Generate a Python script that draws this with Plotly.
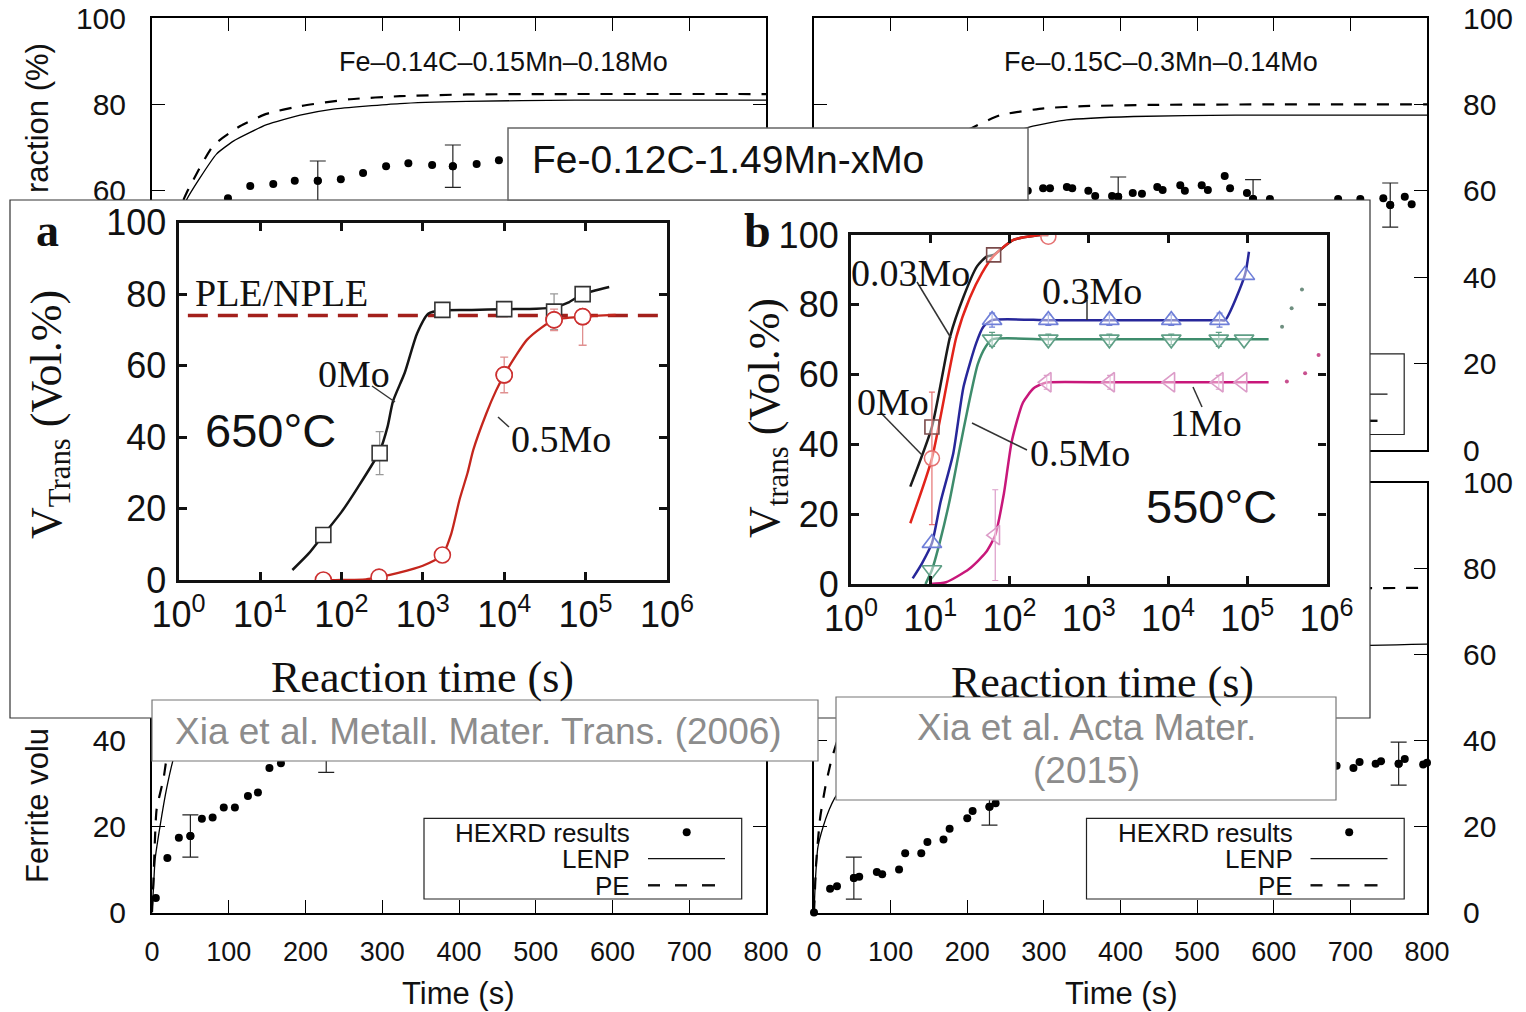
import plotly.graph_objects as go

W, H = 1526, 1012
SANS = "Liberation Sans, Arial, Helvetica, sans-serif"
SERIF = "Liberation Serif, Times New Roman, Times, serif"

# ======================= DATA =======================
# ---- background panels: Time (s) vs ferrite volume fraction (%) ----
time_ticks = [0, 100, 200, 300, 400, 500, 600, 700, 800]
frac_ticks = [0, 20, 40, 60, 80, 100]

tl_title = "Fe–0.14C–0.15Mn–0.18Mo"
tl_hexrd_t = [99, 128, 158, 186, 216, 246, 275, 305, 334, 365, 392, 423, 452]
tl_hexrd_v = [58.3, 61.1, 61.6, 62.3, 62.3, 62.7, 64.1, 65.7, 66.4, 66.0, 65.7, 66.2, 67.1]
tl_hexrd_err = [None, None, None, None, 4.6, None, None, None, None, None, 4.9, None, None]
tl_lenp_t = [0, 10, 20, 30, 45, 62.5, 84, 106, 149.5, 193, 236, 323, 410, 550, 800]
tl_lenp_v = [0, 22, 38, 50, 57.9, 63, 68.5, 71.5, 75.3, 77.5, 78.9, 80.2, 80.7, 81, 81]
tl_pe_t = [0, 10, 20, 30, 45, 80, 115, 149, 193, 258, 323, 410, 550, 800]
tl_pe_v = [0, 24, 42, 53, 59.5, 70.5, 75, 77.8, 79.6, 81.2, 81.9, 82.3, 82.4, 82.4]

tr_title = "Fe–0.15C–0.3Mn–0.14Mo"
tr_hexrd_t = [279, 299, 308, 330, 337, 358, 367, 389, 397, 416, 428, 448, 455, 478, 484,
              506, 514, 536, 543, 565, 573, 595, 684, 713, 743, 752, 771, 780]
tr_hexrd_v = [60.0, 60.6, 60.6, 60.9, 60.6, 60.0, 58.8, 58.8, 58.6, 59.5, 59.3, 60.9, 60.2, 61.3, 60.0,
              61.3, 60.2, 63.4, 60.6, 59.5, 58.1, 58.1, 58.1, 58.1, 58.3, 56.7, 58.6, 56.9]
tr_hexrd_err = [None] * 8 + [4.6] + [None] * 11 + [4.5] + [None] * 4 + [5.1] + [None, None]
tr_lenp_t = [0, 20, 50, 100, 150, 200, 250, 282, 330, 417, 550, 800]
tr_lenp_v = [0, 12, 30, 50, 62, 69, 73, 74.8, 76.4, 77.2, 77.5, 77.5]
tr_pe_t = [0, 20, 50, 100, 150, 200, 243, 300, 352, 450, 600, 800]
tr_pe_v = [0, 20, 40, 58, 68, 74, 77.5, 79.1, 79.6, 79.9, 80, 80]

bl_hexrd_t = [5, 20, 35, 50, 65, 79, 93.5, 108, 125, 138, 153, 168, 227]
bl_hexrd_v = [3.4, 12.7, 17.4, 17.8, 21.8, 22.1, 24.4, 24.4, 27.1, 27.9, 33.6, 34.7, 37.5]
bl_hexrd_err = [None, None, None, 4.9, None, None, None, None, None, None, None, None, 4.9]
bl_lenp_t = [0, 2, 4, 10.5, 19, 28, 40, 60, 100, 200, 400, 800]
bl_lenp_v = [0, 6, 12.3, 20.1, 28.8, 35.8, 42, 50, 60, 70, 74, 75]
bl_pe_t = [0, 2, 6, 15, 19, 30, 50, 100, 200, 400, 800]
bl_pe_v = [0, 8, 24, 31.1, 35.8, 44, 55, 66, 75, 78, 78]

br_hexrd_t = [0, 21, 30, 52, 59, 82, 89, 111, 119, 140, 148, 169, 177, 200, 207, 229, 237,
              682, 704, 712, 733, 740, 763, 771, 795, 800]
br_hexrd_v = [0, 5.5, 6.1, 8.0, 8.3, 9.4, 8.9, 10.0, 13.8, 13.8, 16.4, 17.0, 19.5, 21.9, 23.6, 24.6, 25.4,
              34.1, 33.6, 35.0, 34.6, 35.2, 34.6, 35.7, 34.4, 34.8]
br_hexrd_err = [None, None, None, 4.9] + [None] * 11 + [4.3] + [None] * 6 + [5.0] + [None] * 3
br_lenp_t = [0, 2, 5, 12, 20, 27, 40, 60, 100, 200, 400, 600, 800]
br_lenp_v = [0, 8, 15.1, 20, 24, 26.6, 30, 35, 42, 52, 59, 61.5, 62.4]
br_pe_t = [0, 3, 8, 14.6, 22, 30, 45, 70, 120, 200, 400, 800]
br_pe_v = [0, 12, 22, 29, 35, 39.7, 46, 54, 63, 70, 74.5, 75.5]

legend_labels = ["HEXRD results", "LENP", "PE"]

# ---- inset panels: reaction time (s, log) vs V_trans (vol.%) ----
log_tickvals = [1, 10, 100, 1000, 10000, 100000, 1000000]
log_ticktext = ["10<sup>0</sup>", "10<sup>1</sup>", "10<sup>2</sup>", "10<sup>3</sup>",
                "10<sup>4</sup>", "10<sup>5</sup>", "10<sup>6</sup>"]
vol_ticks = [0, 20, 40, 60, 80, 100]

# panel a (650 °C)
a_0mo_t = [60, 295, 1740, 10000, 41000, 92000]
a_0mo_v = [12.6, 35.5, 75.6, 75.8, 75.1, 80.0]
a_0mo_err = [2, 6, 1.5, 1.5, 5, 2]
a_0mo_fit_t = [25, 40, 60, 100, 160, 295, 370, 430, 600, 850, 1175, 1740, 4000, 10000,
               25000, 41000, 63000, 92000, 195000]
a_0mo_fit_v = [2.8, 7.5, 12.6, 19, 26, 36, 43, 50, 58, 69, 74.6, 75.5, 75.6, 75.8,
               75.9, 76.3, 77.8, 80, 82]
a_05mo_t = [60, 290, 1740, 10000, 41000, 92000]
a_05mo_v = [0, 0.8, 7.0, 57.4, 72.8, 73.7]
a_05mo_err_up = [None, None, None, 5, 3, 1]
a_05mo_err_dn = [None, None, None, 5, 3, 8]
a_05mo_fit_t = [60, 100, 200, 290, 500, 1000, 1740, 2240, 2820, 3550, 4170, 6030, 7940,
                10000, 14100, 19000, 28200, 41000, 92000, 234000]
a_05mo_fit_v = [0, 0, 0.2, 0.8, 2, 4, 7, 13, 22.4, 30, 36.4, 46.6, 53,
                57.4, 63, 67.2, 70.5, 72.8, 73.7, 74.2]
a_ple_t = [1.3, 1000000]
a_ple_v = [74, 74]

# panel b (550 °C)
b_003_fit_t = [5.6, 10.5, 17.8, 26.3, 38.9, 51.3, 63.1, 112, 245, 309]
b_003_fit_v = [27.9, 45, 70.9, 82.3, 91, 93.8, 94.3, 98.6, 100, 100]
b_003_t = [10.5, 63.1]
b_003_v = [45, 94.3]
b_003_err = [None, None]
b_0_fit_t = [5.6, 10.5, 21.4, 31.6, 44.7, 63.1, 112, 245, 309]
b_0_fit_v = [17.4, 36, 70.9, 82, 89, 94, 98.6, 100, 100]
b_0_t = [10.5, 309]
b_0_v = [36, 99.5]
b_0_err = [19, None]
b_03_fit_t = [6.0, 7.9, 10.5, 13.5, 19.5, 26.3, 38, 46.8, 60.3, 309, 1820, 11000, 44700, 52500, 93300, 105000]
b_03_fit_v = [1.6, 6, 11.7, 23.5, 37.4, 56.5, 69, 73.7, 75.6, 75.6, 75.6, 75.6, 75.6, 75.6, 88.5, 95.2]
b_03_t = [10.5, 60.3, 309, 1820, 11000, 44700, 93300]
b_03_v = [11.7, 75.6, 75.6, 75.6, 75.6, 75.6, 88.5]
b_03_err = [None, 2, 1.5, 1.5, 1.5, 2, None]
b_05_fit_t = [8.7, 10.5, 13.2, 17.4, 22.9, 30.2, 39.8, 50.1, 60.3, 309, 1820, 11000, 43700, 91200, 186000]
b_05_fit_v = [0, 4, 12, 23.5, 37.4, 51, 63, 68, 70.1, 70.1, 70.1, 70.1, 70.1, 70.1, 70.1]
b_05_t = [10.5, 60.3, 309, 1820, 11000, 43700, 91200]
b_05_v = [4, 70.1, 70.1, 70.1, 70.1, 70.1, 70.1]
b_05_err = [None, 2, 1.5, 1.5, 1.5, 2, None]
b_05_ext_t = [275000, 363000, 490000]
b_05_ext_v = [73.7, 79, 84.4]
b_1_fit_t = [10, 15.8, 30.9, 50.1, 66.1, 85.1, 107, 148, 200, 263, 309, 1860, 10700, 43700, 87100, 186000]
b_1_fit_v = [0, 0.5, 4.3, 9, 14, 26, 41, 52, 56, 57.4, 57.8, 57.8, 57.8, 57.8, 57.8, 57.8]
b_1_t = [66.1, 295, 1860, 10700, 43700, 87100]
b_1_v = [14, 57.8, 57.8, 57.8, 57.8, 57.8]
b_1_err = [13, 2, 2, None, 2, None]
b_1_ext_t = [316000, 537000, 794000]
b_1_ext_v = [58, 60.4, 65.6]


# ======================= HELPERS =======================
def PX(x):
    return x / W


def PY(y):
    return 1 - y / H


def with_err(ts, vs, es):
    """Keep only the points that carry an error bar."""
    keep = [i for i, e in enumerate(es) if e is not None]
    return [ts[i] for i in keep], [vs[i] for i in keep], [es[i] for i in keep]


fig = go.Figure()


def add(tr):
    tr.update(showlegend=False, hoverinfo="skip")
    fig.add_trace(tr)


def ann(text, x, y, size, family=SANS, color="#111", xanchor="center", yanchor="middle", angle=0):
    fig.add_annotation(text=text, x=PX(x), y=PY(y), xref="paper", yref="paper", showarrow=False,
                       font=dict(family=family, size=size, color=color),
                       xanchor=xanchor, yanchor=yanchor, textangle=angle)


def seg(x0, y0, x1, y1, color="#222", lw=1.5, layer="above", dash=None):
    fig.add_shape(type="line", xref="paper", yref="paper", x0=PX(x0), y0=PY(y0), x1=PX(x1), y1=PY(y1),
                  line=dict(color=color, width=lw, dash=dash), layer=layer)


def rect(x0, y0, x1, y1, color="#333", lw=1, fill=None, layer="above"):
    fig.add_shape(type="rect", xref="paper", yref="paper", x0=PX(x0), y0=PY(y1), x1=PX(x1), y1=PY(y0),
                  line=dict(color=color, width=lw), fillcolor=fill if fill else "rgba(0,0,0,0)", layer=layer)


# ======================= BACKGROUND PANELS =======================
panels = {
    1: dict(x=(152, 766), y=(18, 450), side="left", showx=False),
    2: dict(x=(814, 1427), y=(18, 450), side="right", showx=False),
    3: dict(x=(152, 766), y=(482.5, 912.5), side="left", showx=True),
    4: dict(x=(814, 1427), y=(482.5, 912.5), side="right", showx=True),
}
axis_common = dict(showline=True, linewidth=2, linecolor="black", mirror="ticks", ticks="inside",
                   ticklen=13, tickwidth=1.2, tickcolor="black", showgrid=False, zeroline=False,
                   automargin=False)
lay = {}
for n, p in panels.items():
    s = "" if n == 1 else str(n)
    lay["xaxis" + s] = dict(domain=[PX(p["x"][0]), PX(p["x"][1])], range=[0, 800], anchor="y" + s,
                            tickmode="array", tickvals=time_ticks, showticklabels=p["showx"],
                            tickfont=dict(family=SANS, size=27, color="#111"), ticklabelstandoff=14,
                            **axis_common)
    lay["yaxis" + s] = dict(domain=[PY(p["y"][1]), PY(p["y"][0])], range=[0, 100], anchor="x" + s,
                            side=p["side"], tickmode="array", tickvals=frac_ticks,
                            tickfont=dict(family=SANS, size=30, color="#111"),
                            ticklabelstandoff=18 if p["side"] == "left" else 28, **axis_common)

bg_sets = [
    ("x", "y", tl_hexrd_t, tl_hexrd_v, tl_hexrd_err, tl_lenp_t, tl_lenp_v, tl_pe_t, tl_pe_v),
    ("x2", "y2", tr_hexrd_t, tr_hexrd_v, tr_hexrd_err, tr_lenp_t, tr_lenp_v, tr_pe_t, tr_pe_v),
    ("x3", "y3", bl_hexrd_t, bl_hexrd_v, bl_hexrd_err, bl_lenp_t, bl_lenp_v, bl_pe_t, bl_pe_v),
    ("x4", "y4", br_hexrd_t, br_hexrd_v, br_hexrd_err, br_lenp_t, br_lenp_v, br_pe_t, br_pe_v),
]
for xa, ya, ht, hv, he, lt, lv, pt, pv in bg_sets:
    add(go.Scatter(x=lt, y=lv, xaxis=xa, yaxis=ya, mode="lines",
                   line=dict(color="black", width=1.3, shape="spline", smoothing=0.5)))
    add(go.Scatter(x=pt, y=pv, xaxis=xa, yaxis=ya, mode="lines",
                   line=dict(color="black", width=2.2, dash="12px,11px", shape="spline", smoothing=0.5)))
    add(go.Scatter(x=ht, y=hv, xaxis=xa, yaxis=ya, mode="markers", cliponaxis=False,
                   marker=dict(size=8, color="black")))
    et, ev, ee = with_err(ht, hv, he)
    add(go.Scatter(x=et, y=ev, xaxis=xa, yaxis=ya, mode="markers", cliponaxis=False,
                   marker=dict(size=8, color="black"),
                   error_y=dict(type="data", array=ee, visible=True, color="#222", thickness=1.2, width=8)))

# ======================= WHITE COVER (inset frame) =======================
lay["xaxis5"] = dict(domain=[PX(10), PX(1370)], range=[0, 1], anchor="y5", visible=False, automargin=False)
lay["yaxis5"] = dict(domain=[PY(718), PY(200)], range=[0, 1], anchor="x5", visible=False, automargin=False)
add(go.Scatter(x=[0, 1, 1, 0, 0], y=[0, 0, 1, 1, 0], xaxis="x5", yaxis="y5", mode="lines",
               fill="toself", fillcolor="white", line=dict(width=0, color="white")))

# ======================= INSETS =======================
inset_common = dict(type="log", range=[0, 6], tickmode="array", tickvals=log_tickvals, ticktext=log_ticktext,
                    showline=True, linewidth=3.2, linecolor="#111", mirror="ticks", ticks="inside",
                    ticklen=8, tickwidth=2.5, tickcolor="#111", showgrid=False, zeroline=False,
                    tickfont=dict(family=SANS, size=36, color="#111"), ticklabelstandoff=1, automargin=False)
inset_ycommon = dict(range=[0, 100], tickmode="array", tickvals=vol_ticks,
                     showline=True, linewidth=3.2, linecolor="#111", mirror="ticks", ticks="inside",
                     ticklen=8, tickwidth=2.5, tickcolor="#111", showgrid=False, zeroline=False,
                     tickfont=dict(family=SANS, size=36, color="#111"), ticklabelstandoff=2, automargin=False)
lay["xaxis6"] = dict(domain=[PX(178.6), PX(667)], anchor="y6", **inset_common)
lay["yaxis6"] = dict(domain=[PY(580), PY(222.7)], anchor="x6", **inset_ycommon)
lay["xaxis7"] = dict(domain=[PX(851), PX(1326.5)], anchor="y7", **inset_common)
lay["yaxis7"] = dict(domain=[PY(584), PY(235)], anchor="x7", **inset_ycommon)

# panel a traces
add(go.Scatter(x=a_ple_t, y=a_ple_v, xaxis="x6", yaxis="y6", mode="lines",
               line=dict(color="#a3201c", width=3.5, dash="20px,10px")))
add(go.Scatter(x=a_0mo_fit_t, y=a_0mo_fit_v, xaxis="x6", yaxis="y6", mode="lines",
               line=dict(color="#151515", width=2.5, shape="spline", smoothing=0.6)))
add(go.Scatter(x=a_05mo_fit_t, y=a_05mo_fit_v, xaxis="x6", yaxis="y6", mode="lines",
               line=dict(color="#c4261d", width=2.3, shape="spline", smoothing=0.6)))
add(go.Scatter(x=a_0mo_t, y=a_0mo_v, xaxis="x6", yaxis="y6", mode="markers",
               marker=dict(symbol="square", size=15, color="white", line=dict(color="#333", width=1.6)),
               error_y=dict(type="data", array=a_0mo_err, color="#999", thickness=1.3, width=4)))
add(go.Scatter(x=a_05mo_t, y=a_05mo_v, xaxis="x6", yaxis="y6", mode="markers",
               marker=dict(symbol="circle", size=16, color="white", line=dict(color="#cc3030", width=1.6))))
keep = [i for i, e in enumerate(a_05mo_err_up) if e is not None]
add(go.Scatter(x=[a_05mo_t[i] for i in keep], y=[a_05mo_v[i] for i in keep], xaxis="x6", yaxis="y6",
               mode="markers",
               marker=dict(symbol="circle", size=16, color="white", line=dict(color="#cc3030", width=1.6)),
               error_y=dict(type="data", symmetric=False, array=[a_05mo_err_up[i] for i in keep],
                            arrayminus=[a_05mo_err_dn[i] for i in keep],
                            color="#e09090", thickness=1.3, width=4)))

# panel b traces
b_series = [
    (b_003_fit_t, b_003_fit_v, "#1a1a1a", b_003_t, b_003_v, b_003_err, "square", "#7a4a4a", 14),
    (b_0_fit_t, b_0_fit_v, "#e2231a", b_0_t, b_0_v, b_0_err, "circle", "#e57373", 15),
    (b_03_fit_t, b_03_fit_v, "#27279a", b_03_t, b_03_v, b_03_err, "triangle-up", "#6f7fd8", 17),
    (b_05_fit_t, b_05_fit_v, "#3e8c6c", b_05_t, b_05_v, b_05_err, "triangle-down", "#5f9f86", 17),
    (b_1_fit_t, b_1_fit_v, "#c8177a", b_1_t, b_1_v, b_1_err, "triangle-left", "#dc9cc8", 17),
]
for ft, fv, lc, mt, mv, me, sym, mc, ms in b_series:
    add(go.Scatter(x=ft, y=fv, xaxis="x7", yaxis="y7", mode="lines",
                   line=dict(color=lc, width=2.5, shape="spline", smoothing=0.6)))
for ft, fv, lc, mt, mv, me, sym, mc, ms in b_series:
    et, ev, ee = with_err(mt, mv, me)
    if et:
        add(go.Scatter(x=et, y=ev, xaxis="x7", yaxis="y7", mode="markers",
                       marker=dict(size=1, color="rgba(0,0,0,0)"),
                       error_y=dict(type="data", array=ee, color=mc, thickness=1.2, width=3)))
    add(go.Scatter(x=mt, y=mv, xaxis="x7", yaxis="y7", mode="markers",
                   marker=dict(symbol=sym, size=ms, color="rgba(255,255,255,0.45)", line=dict(color=mc, width=1.6))))
add(go.Scatter(x=b_05_ext_t, y=b_05_ext_v, xaxis="x7", yaxis="y7", mode="markers",
               marker=dict(size=4, color="#6f8f80")))
add(go.Scatter(x=b_1_ext_t, y=b_1_ext_v, xaxis="x7", yaxis="y7", mode="markers",
               marker=dict(size=4, color="#c8508f")))

# ======================= SHAPES =======================
# legends of the background panels (drawn under the data layer)
def legend_glyphs(dx, dy):
    rect(424 + dx, 818.3 + dy, 741.7 + dx, 899 + dy, "#222", 1.2, layer="below")
    seg(648 + dx, 858.7 + dy, 725 + dx, 858.7 + dy, "#111", 1.3, layer="below")
    for a, b in [(648, 660), (675, 687), (702, 715)]:
        seg(a + dx, 885.3 + dy, b + dx, 885.3 + dy, "#111", 2.4, layer="below")
    fig.add_shape(type="circle", xref="paper", yref="paper", x0=PX(682.7 + dx), x1=PX(690.7 + dx),
                  y0=PY(836.3 + dy), y1=PY(828.3 + dy), fillcolor="black", line=dict(width=0), layer="below")


legend_glyphs(0, 0)
legend_glyphs(662.5, 0)
legend_glyphs(662.5, -464.5)

# inset frame border
rect(10, 200, 1370, 718, "#333", 1.2)
# alloy box
rect(508, 128, 1028, 200, "#666", 1.5, fill="white")

# leader lines (panel a)
seg(372, 386, 395, 402, "#333", 1.5)
seg(498, 417, 509, 427, "#333", 1.5)
# leader lines (panel b)
seg(917, 282, 951, 338, "#333", 1.5)
seg(880, 412, 922, 455, "#333", 1.5)
seg(1087, 300, 1087, 320, "#333", 1.5)
seg(972, 423, 1027, 450, "#333", 1.5)
seg(1193, 387, 1202, 407, "#333", 1.5)

# citation boxes
rect(152, 700, 818, 761, "#777", 1.2, fill="white")
rect(836, 697, 1336, 800, "#777", 1.2, fill="white")

# ======================= TEXT =======================
ann(tl_title, 503.5, 62, 27)
ann(tr_title, 1161, 62, 27)
ann("raction (%)", 37, 118, 31, angle=-90)
ann("Ferrite volu", 37, 806, 31, angle=-90)
ann("Time (s)", 459, 993, 31)
ann("Time (s)", 1121, 993, 31)
for dx in (0, 662.5):
    for lab, yy in zip(legend_labels, [832.5, 859, 886]):
        ann(lab, 632 + dx, yy, 26, xanchor="right")

ann("Fe-0.12C-1.49Mn-xMo", 530, 160, 39, xanchor="left")

# panel a text
ann("<b>a</b>", 48, 230, 46, family=SERIF)
ann("PLE/NPLE", 193, 293, 38, family=SERIF, xanchor="left")
ann("0Mo", 354, 374, 38, family=SERIF)
ann("0.5Mo", 509, 439, 38, family=SERIF, xanchor="left")
ann("650°C", 203, 430, 47, xanchor="left")
ann("Reaction time (s)", 422, 677, 44, family=SERIF)
ann("V<sub>Trans</sub> (Vol.%)", 50, 415, 44, family=SERIF, angle=-90)

# panel b text
ann("<b>b</b>", 757, 230, 48, family=SERIF)
ann("0.03Mo", 849, 273, 38, family=SERIF, xanchor="left")
ann("0Mo", 855, 402, 38, family=SERIF, xanchor="left")
ann("0.3Mo", 1040, 291, 38, family=SERIF, xanchor="left")
ann("0.5Mo", 1028, 453, 38, family=SERIF, xanchor="left")
ann("1Mo", 1168, 423, 38, family=SERIF, xanchor="left")
ann("550°C", 1144, 506, 47, xanchor="left")
ann("Reaction time (s)", 1102, 682, 44, family=SERIF)
ann("V<sub>trans</sub> (Vol.%)", 767, 418, 44, family=SERIF, angle=-90)

# citations
ann("Xia et al. Metall. Mater. Trans. (2006)", 478, 731, 37, color="#8c8c8c")
ann("Xia et al. Acta Mater.", 1086, 727, 37, color="#8c8c8c")
ann("(2015)", 1086, 770, 37, color="#8c8c8c")

fig.update_layout(width=W, height=H, autosize=False,
                  margin=dict(l=0, r=0, t=0, b=0, pad=0, autoexpand=False),
                  paper_bgcolor="white", plot_bgcolor="white", showlegend=False, **lay)

fig.write_html("out.html", config={"displayModeBar": False},
               post_script="document.body.style.margin='0';document.body.style.overflow='hidden';")
